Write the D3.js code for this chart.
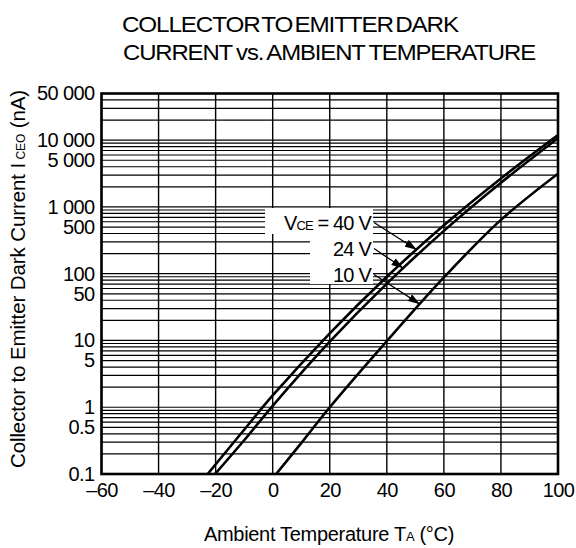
<!DOCTYPE html>
<html>
<head>
<meta charset="utf-8">
<script src="https://cdn.jsdelivr.net/npm/d3@7"></script>
<style>
  body { margin: 0; background: #fff; }
  svg text { font-family: "Liberation Sans", Arial, sans-serif; fill: #000; }
</style>
</head>
<body>
<svg id="chart" width="576" height="548"></svg>
<script>
// curve readings, ambient temperature (°C) vs dark current (nA)
var temps40 = [-22.8, -10, 0, 20, 40, 60, 80, 100];
var curr40 = [0.1, 0.46, 1.5, 12.8, 90, 532, 2670, 11900];
var temps24 = [-20.2, -10, 0, 20, 40, 60, 80, 100];
var curr24 = [0.1, 0.32, 1.05, 9.6, 71, 438, 2300, 10700];
var temps10 = [1.2, 10, 20, 40, 60, 80, 100];
var curr10 = [0.1, 0.29, 1.0, 9.8, 88, 640, 3150];

var xTicks = [-60, -40, -20, 0, 20, 40, 60, 80, 100];
var yTicks = [0.1, 0.5, 1, 5, 10, 50, 100, 500, 1000, 5000, 10000, 50000];
var yTickLabels = ["0.1", "0.5", "1", "5", "10", "50", "100", "500", "1 000", "5 000", "10 000", "50 000"];

// where each arrow lands on its curve
var arrowTemps = [50.5, 45.8, 51.6];
var seriesNames = ["40 V", "24 V", "10 V"];

(function () {
    var pl = 101.5, pr = 558, pt = 93.5, pb = 474;

    var svg = d3.select("#chart");

    var x = d3.scaleLinear().domain([-60, 100]).range([pl, pr]);
    var y = d3.scaleLog().domain([0.1, 50000]).range([pb, pt]);

    // gridlines
    var grid = svg.append("g");
    grid.selectAll("line.h")
        .data(y.ticks())
        .join("line")
        .attr("class", "h")
        .attr("x1", pl).attr("x2", pr)
        .attr("y1", function (d) { return y(d); })
        .attr("y2", function (d) { return y(d); })
        .attr("stroke", "#000")
        .attr("stroke-width", 1.2);
    grid.selectAll("line.v")
        .data(xTicks)
        .join("line")
        .attr("class", "v")
        .attr("x1", function (d) { return x(d); })
        .attr("x2", function (d) { return x(d); })
        .attr("y1", pt).attr("y2", pb)
        .attr("stroke", "#000")
        .attr("stroke-width", 1.4);

    // label backgrounds hide the grid
    var boxes = svg.append("g");
    boxes.append("rect").attr("x", 265).attr("y", 208).attr("width", 108).attr("height", 26).attr("fill", "#fff");
    boxes.append("rect").attr("x", 310).attr("y", 233).attr("width", 63).attr("height", 51).attr("fill", "#fff");

    // frame
    svg.append("rect")
        .attr("x", pl).attr("y", pt)
        .attr("width", pr - pl).attr("height", pb - pt)
        .attr("fill", "none")
        .attr("stroke", "#000")
        .attr("stroke-width", 2.6);

    // axes (labels only)
    svg.append("g")
        .attr("transform", "translate(" + pl + ",0)")
        .call(d3.axisLeft(y).tickValues(yTicks).tickSize(0).tickPadding(7)
            .tickFormat(function (d, i) { return yTickLabels[i]; }))
        .call(function (g) { g.select(".domain").remove(); })
        .selectAll("text")
        .attr("font-size", 20)
        .attr("letter-spacing", -0.6)
        .attr("font-family", "Liberation Sans, Arial, sans-serif");

    svg.append("g")
        .attr("transform", "translate(0," + pb + ")")
        .call(d3.axisBottom(x).tickValues(xTicks).tickSize(0).tickPadding(9)
            .tickFormat(function (d) { return d < 0 ? "\u2013" + Math.abs(d) : d; }))
        .call(function (g) { g.select(".domain").remove(); })
        .selectAll("text")
        .attr("font-size", 20)
        .attr("letter-spacing", -0.6)
        .attr("font-family", "Liberation Sans, Arial, sans-serif");

    // curves
    svg.append("clipPath").attr("id", "clip")
        .append("rect").attr("x", pl).attr("y", pt)
        .attr("width", pr - pl).attr("height", pb - pt);

    var line = d3.line()
        .x(function (d) { return x(d[0]); })
        .y(function (d) { return y(d[1]); })
        .curve(d3.curveCatmullRom.alpha(0.5));

    var series = [d3.zip(temps40, curr40), d3.zip(temps24, curr24), d3.zip(temps10, curr10)];

    svg.append("g")
        .attr("clip-path", "url(#clip)")
        .selectAll("path")
        .data(series)
        .join("path")
        .attr("d", line)
        .attr("fill", "none")
        .attr("stroke", "#000")
        .attr("stroke-width", 2.6);

    // arrows from labels to curves
    svg.append("defs").append("marker")
        .attr("id", "head")
        .attr("viewBox", "0 0 12 8")
        .attr("refX", 12).attr("refY", 4)
        .attr("markerWidth", 12).attr("markerHeight", 8)
        .attr("markerUnits", "userSpaceOnUse")
        .attr("orient", "auto")
        .append("path").attr("d", "M0,0L12,4L0,8Z").attr("fill", "#000");

    function curveAt(s, t) {
        var ts = s.map(function (d) { return d[0]; });
        var ls = s.map(function (d) { return Math.log10(d[1]); });
        return Math.pow(10, d3.scaleLinear().domain(ts).range(ls)(t));
    }

    var labelY = [229.5, 255.5, 281.5];
    var arrows = svg.append("g");
    seriesNames.forEach(function (name, i) {
        var t = arrowTemps[i];
        arrows.append("line")
            .attr("x1", 374).attr("y1", labelY[i] - 7)
            .attr("x2", x(t)).attr("y2", y(curveAt(series[i], t)))
            .attr("stroke", "#000")
            .attr("stroke-width", 1.3)
            .attr("marker-end", "url(#head)");
    });

    // series labels
    var lab = svg.append("g")
        .attr("font-size", 20)
        .attr("letter-spacing", -0.8)
        .attr("text-anchor", "end");
    var t0 = lab.append("text").attr("x", 371).attr("y", labelY[0]);
    t0.append("tspan").text("V");
    t0.append("tspan").attr("font-size", 13).attr("letter-spacing", -1).text("CE");
    t0.append("tspan").text(" = " + seriesNames[0]);
    lab.append("text").attr("x", 371).attr("y", labelY[1]).text(seriesNames[1]);
    lab.append("text").attr("x", 371).attr("y", labelY[2]).text(seriesNames[2]);

    // title
    svg.append("text")
        .attr("x", 122).attr("y", 31.5)
        .attr("font-size", 21.5)
        .attr("letter-spacing", -1)
        .attr("word-spacing", -3)
        .attr("textLength", 336)
        .attr("lengthAdjust", "spacingAndGlyphs")
        .text("COLLECTOR TO EMITTER DARK");
    svg.append("text")
        .attr("x", 123).attr("y", 60)
        .attr("font-size", 21.5)
        .attr("letter-spacing", -1)
        .attr("word-spacing", -1)
        .attr("textLength", 412)
        .attr("lengthAdjust", "spacingAndGlyphs")
        .text("CURRENT vs. AMBIENT TEMPERATURE");

    // axis titles
    var xt = svg.append("text")
        .attr("x", 329).attr("y", 541)
        .attr("font-size", 20)
        .attr("letter-spacing", -0.3)
        .attr("text-anchor", "middle");
    xt.append("tspan").text("Ambient Temperature  T");
    xt.append("tspan").attr("font-size", 13).text("A");
    xt.append("tspan").text(" (\u00B0C)");

    var yt = svg.append("text")
        .attr("transform", "translate(25,279) rotate(-90)")
        .attr("font-size", 20.5)
        .attr("letter-spacing", -0.1)
        .attr("text-anchor", "middle");
    yt.append("tspan").text("Collector to Emitter Dark Current  I");
    yt.append("tspan").attr("font-size", 12).text(" CEO");
    yt.append("tspan").text(" (nA)");
})();
</script>
</body>
</html>
